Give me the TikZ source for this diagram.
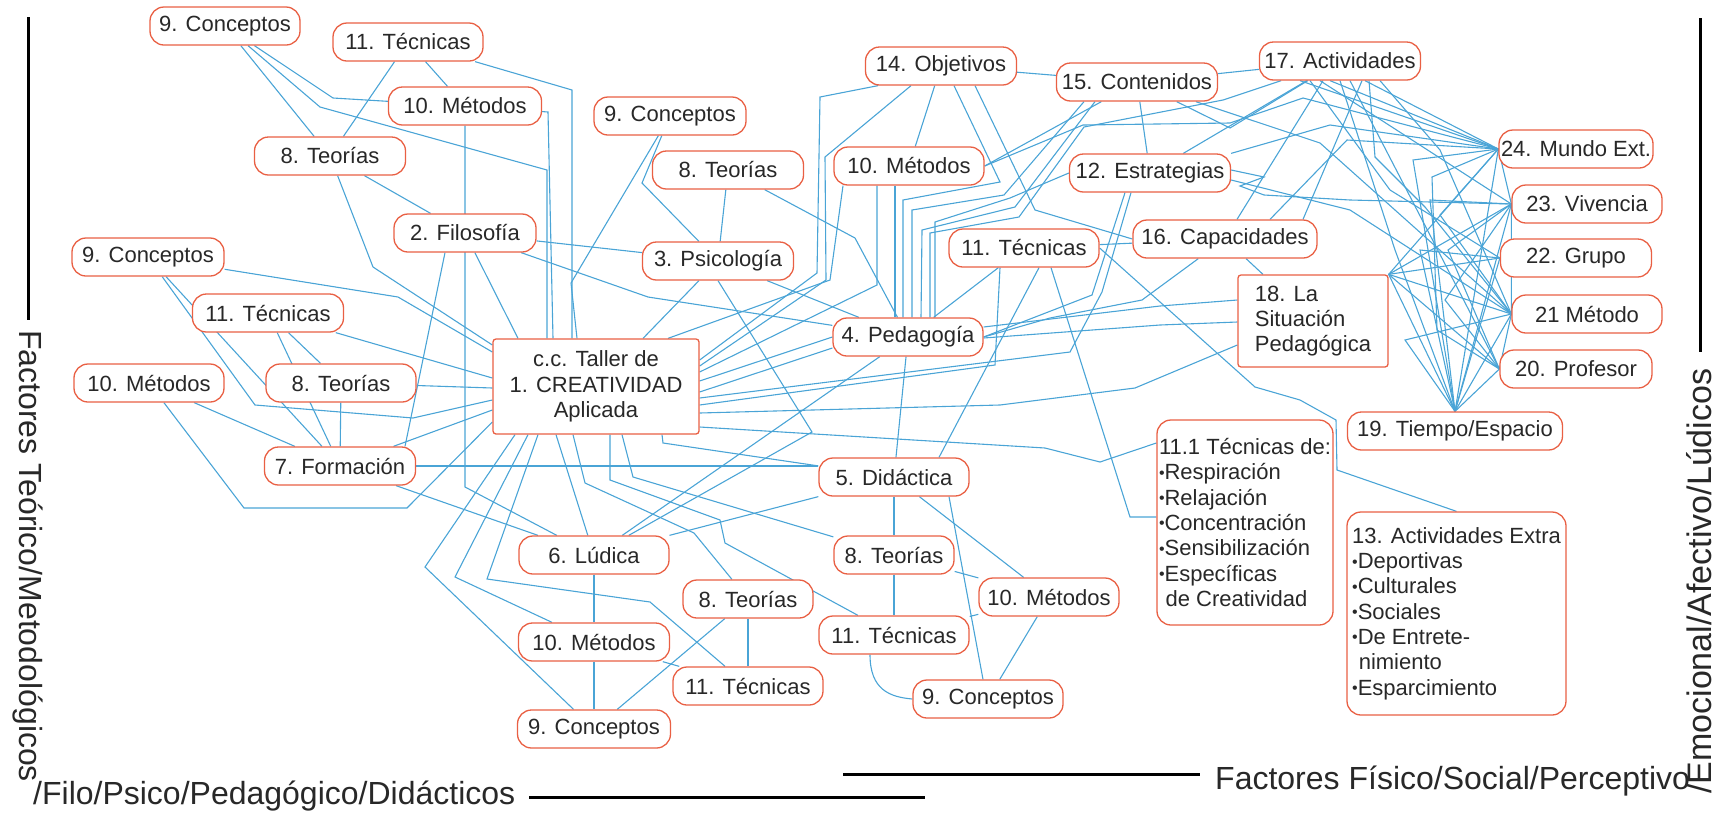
\documentclass[tikz,border=0pt]{standalone}
\usepackage{fontspec}
\setmainfont{Liberation Sans}
\usetikzlibrary{backgrounds}
\definecolor{linkc}{RGB}{74,164,214}
\definecolor{boxc}{RGB}{233,96,68}
\definecolor{txtc}{RGB}{40,40,40}
% small list bullet
\newcommand{\bul}{\raisebox{1.6pt}{\fontsize{16}{16}\selectfont •}}
\begin{document}
\begin{tikzpicture}[x=1pt,y=-1pt,
  pill/.style={draw=boxc, line width=1.3pt, fill=white, rounded corners=14pt,
    minimum height=38pt, inner sep=2pt, font=\fontsize{22}{25}\selectfont, text=txtc},
  panel/.style={draw=boxc, line width=1.3pt, fill=white, rounded corners=3pt,
    inner sep=2pt, font=\fontsize{22}{25.3}\selectfont, text=txtc},
  link/.style={draw=linkc, line width=1.1pt},
  rule/.style={draw=black, line width=3pt},
  factor/.style={font=\fontsize{32}{36}\selectfont, text=txtc, inner sep=0pt}]
\useasboundingbox (0,0) rectangle (1729,812);

% ---------- factor labels and rules ----------
\draw[rule] (28,17) -- (28,320);
\node[factor, rotate=-90, anchor=west] (ftl) at (28,330) {Factores Teórico/Metodológicos};
\node[factor, anchor=base west] (fbl) at (33,804) {/Filo/Psico/Pedagógico/Didácticos};
\draw[rule] (529,797) -- (925,797);
\draw[rule] (843,774) -- (1200,774);
\node[factor, anchor=base west] (fbr) at (1215,789) {Factores Físico/Social/Perceptivo};
\draw[rule] (1700,18) -- (1700,352);
\node[factor, font=\fontsize{34}{38}\selectfont, rotate=90, anchor=west] (fr) at (1699,794) {/Emocional/Afectivo/Lúdicos};

% ---------- central box ----------
\node[panel, minimum width=206pt, minimum height=95pt, align=center] (cc) at (596,386.5)
  {c.c. Taller de\\1. CREATIVIDAD\\Aplicada};

% ---------- philosophy branch ----------
\node[pill, minimum width=150pt] (n9a) at (225,26) {9. Conceptos};
\node[pill, minimum width=150pt] (n11a) at (408,42) {11. Técnicas};
\node[pill, minimum width=153pt] (n10a) at (465,106) {10. Métodos};
\node[pill, minimum width=151pt] (n8a) at (330,156) {8. Teorías};
\node[pill, minimum width=142pt] (n2) at (465,233) {2. Filosofía};

% ---------- formation branch ----------
\node[pill, minimum width=152pt] (n9b) at (148,257) {9. Conceptos};
\node[pill, minimum width=151pt] (n11b) at (268,313) {11. Técnicas};
\node[pill, minimum width=150pt] (n10b) at (149,383) {10. Métodos};
\node[pill, minimum width=150pt] (n8b) at (341,383) {8. Teorías};
\node[pill, minimum width=151pt] (n7) at (340,466) {7. Formación};

% ---------- psychology / pedagogy ----------
\node[pill, minimum width=152pt] (n9e) at (670,116) {9. Conceptos};
\node[pill, minimum width=151pt] (n8e) at (728,170) {8. Teorías};
\node[pill, minimum width=151pt] (n3) at (718,261) {3. Psicología};
\node[pill, minimum width=150pt] (n10e) at (909,166) {10. Métodos};
\node[pill, minimum width=151pt] (n14) at (941,66) {14. Objetivos};
\node[pill, minimum width=161pt] (n15) at (1137,82) {15. Contenidos};
\node[pill, minimum width=161pt] (n17) at (1340,61) {17. Actividades};
\node[pill, minimum width=161pt] (n12) at (1150,173) {12. Estrategias};
\node[pill, minimum width=150pt] (n11e) at (1024,248) {11. Técnicas};
\node[pill, minimum width=184pt] (n16) at (1225,239) {16. Capacidades};
\node[pill, minimum width=150pt] (n4) at (908,337) {4. Pedagogía};
\node[panel, minimum width=150pt, minimum height=92pt, align=left] (n18) at (1313,321)
  {18. La\\Situación\\Pedagógica};

% ---------- right column ----------
\node[pill, minimum width=151pt] (n24) at (1576,149) {24. Mundo Ext.};
\node[pill, minimum width=150pt] (n23) at (1587,204) {23. Vivencia};
\node[pill, minimum width=151pt] (n22) at (1576,258) {22. Grupo};
\node[pill, minimum width=150pt] (n21) at (1587,314) {21 Método};
\node[pill, minimum width=152pt] (n20) at (1576,369) {20. Profesor};
\node[pill, minimum width=215pt] (n19) at (1455,431) {19. Tiempo/Espacio};
\node[panel, rounded corners=14pt, minimum width=176pt, minimum height=205pt, align=left] (n111) at (1245,522.5)
  {11.1 Técnicas de:\\\bul Respiración\\\bul Relajación\\\bul Concentración\\\bul Sensibilización\\\bul Específicas\\\hspace{0.3em}de Creatividad};
\node[panel, rounded corners=14pt, minimum width=219pt, minimum height=203pt, align=left] (n13) at (1456.5,613.5)
  {13. Actividades Extra\\\bul Deportivas\\\bul Culturales\\\bul Sociales\\\bul De Entrete-\\\hspace{0.3em}nimiento\\\bul Esparcimiento};

% ---------- didactics / ludic branch ----------
\node[pill, minimum width=150pt] (n5) at (894,477) {5. Didáctica};
\node[pill, minimum width=150pt] (n6) at (594,555) {6. Lúdica};
\node[pill, minimum width=120pt] (n8c) at (894,555) {8. Teorías};
\node[pill, minimum width=130pt] (n8d) at (748,599) {8. Teorías};
\node[pill, minimum width=151pt] (n10c) at (594,642) {10. Métodos};
\node[pill, minimum width=150pt] (n11c) at (748,686) {11. Técnicas};
\node[pill, minimum width=153pt] (n9c) at (594,729) {9. Conceptos};
\node[pill, minimum width=140pt] (n10d) at (1049,597) {10. Métodos};
\node[pill, minimum width=150pt] (n11d) at (894,635) {11. Técnicas};
\node[pill, minimum width=150pt] (n9d) at (988,699) {9. Conceptos};

% ---------- connectors ----------
\begin{pgfonlayer}{background}
% philosophy branch
\draw[link] (n9a) -- (n8a);
\draw[link] (n9a) -- (333,98) -- (n10a);
\draw[link] (n9a) -- (320,107) -- (547,170) -- (547,0 |- cc.north);
\draw[link] (n11a) -- (n8a);
\draw[link] (n11a) -- (n10a);
\draw[link] (n11a) -- (572,90) -- (572,0 |- cc.north);
\draw[link] (n10a) -- (465,487) -- (n6);
\draw[link] (n10a) -- (548,112) -- (553,0 |- cc.north);
\draw[link] (n8a) -- (373,267) -- (cc.west |- 0,345);
\draw[link] (n8a) -- (n2);
\draw[link] ([xshift=-20pt]n2.south) -- ([xshift=65pt]n7.north);
\draw[link] (n2) -- ([xshift=-78pt]cc.north);
\draw[link] (n2) -- (n3);
\draw[link] (n2) -- (648,297) -- (n4);
% formation branch
\draw[link] (n9b) -- (398,297) -- (cc.west |- 0,352);
\draw[link] (n9b) -- (255,405) -- (413,418) -- (cc.west |- 0,400);
\draw[link] (n9b) -- (n7);
\draw[link] (n11b) -- (cc.west |- 0,378);
\draw[link] (n11b) -- (n8b);
\draw[link] (n11b) -- (n7);
\draw[link] (n10b) -- (244,508) -- (407,508) -- (cc.west |- 0,422);
\draw[link] (n10b) -- (n7);
\draw[link] (n8b) -- (n7);
\draw[link] (n8b) -- (cc.west |- 0,388);
\draw[link] (n7) -- (cc.west |- 0,410);
\draw[link] (n7.east) -- (n7.east -| n5.west);
\draw[link] (n7) -- (n6);
% central box, lower side
\draw[link] (cc.south -| 515,0) -- (425,567) -- (n9c);
\draw[link] (cc.south -| 528,0) -- (455,577) -- (n10c);
\draw[link] (cc.south -| 538,0) -- (487,579) -- (650,602) -- (n11c);
\draw[link] (cc.south -| 556,0) -- (n6);
\draw[link] (cc.south -| 573,0) -- (585,483) -- (694,533) -- (n8d);
\draw[link] (cc.south -| 610,0) -- (610,480) -- (720,520) -- (725,543) -- (n11d);
\draw[link] (cc.south -| 622,0) -- (633,477) -- (n8c);
\draw[link] (cc.south -| 662,0) -- (663,443) -- (n5);
% ludic / didactic cluster
\draw[link] (n6) -- (n10c);
\draw[link] (n6) -- (n5);
\draw[link] (n6) -- (n4);
\draw[link] (n3.south) -- (812,432) -- (n6);
\draw[link] (n4) -- (n5);
\draw[link] (n5) -- (n8c);
\draw[link] ([xshift=55pt]n5.south) -- ([xshift=-5pt]n9d.north);
\draw[link] (n5) -- (n10d);
\draw[link] (n8c) -- (n11d);
\draw[link] (n8c) -- (n10d);
\draw[link] (n11d) -- (n10d);
\draw[link] (n11d.south -| 870,0) .. controls (870,690) and (890,697) .. (n9d.west);
\draw[link] (n10d) -- (n9d);
\draw[link] (n8d) -- (n11c);
\draw[link] (n8d) -- (n9c);
\draw[link] (n10c) -- (n11c);
\draw[link] (n10c) -- (n9c);
% psychology
\draw[link] (n9e) -- (571,283) -- (cc.north -| 577,0);
\draw[link] (n9e) -- (642,183) -- (n3);
\draw[link] (n8e) -- (n3);
\draw[link] (n8e) -- (855,238) -- (n4);
\draw[link] (n3) -- (n4);
\draw[link] (cc.north -| 643,0) -- (n3);
\draw[link] (cc.north -| 668,0) -- (830,280) -- (n10e.south -| 843,0);
% central box, right side fan
\draw[link] (cc.east |- 0,360) -- (817,273) -- (820,97) -- (n14.south -| 878,0);
\draw[link] (cc.east |- 0,366) -- (826,280) -- (825,157) -- (n14.south -| 911,0);
\draw[link] (cc.east |- 0,372) -- (877,285) -- (n10e.south -| 877,0);
\draw[link] (cc.east |- 0,381) -- (n4.west);
\draw[link] (cc.east |- 0,392) -- (n4.west |- 0,348);
\draw[link] (cc.east |- 0,398) -- (1070,352) -- (1102,292) -- (n12.south -| 1131,0);
\draw[link] (cc.east |- 0,405) -- (995,365) -- (n11e.south -| 1000,0);
\draw[link] (cc.east |- 0,413) -- (1000,405) -- (1135,388) -- (n18.west |- 0,345);
\draw[link] (cc.east |- 0,427) -- (1045,448) -- (1100,462) -- (n111.west |- 0,443);
% pedagogy cluster
\draw[link] (n10e.south -| 895,0) -- (n4.north -| 895,0);
\draw[link] (n14) -- (n10e);
\draw[link] (n14) -- (n15);
\draw[link] (n14.south -| 954,0) -- (1000,182) -- (903,200) -- (n4.north -| 903,0);
\draw[link] (n14.south -| 975,0) -- (1035,210) -- (n16.west);
\draw[link] (n15) -- (n10e.east);
\draw[link] (n15.south -| 1084,0) -- (1004,195) -- (912,210) -- (n4.north -| 912,0);
\draw[link] (n15.south -| 1095,0) -- (1015,207) -- (922,230) -- (n4.north -| 921,0);
\draw[link] (n15) -- (n12);
\draw[link] (n15) -- (n17);
\draw[link] (n15) -- (1230,128) -- (n17);
\draw[link] (n15) -- (1320,143) -- (n21.west);
\draw[link] (n17) -- (1223,100) -- (1084,127) -- (1019,217) -- (930,233) -- (n4.north -| 930,0);
\draw[link] (n17) -- (n12);
\draw[link] (n16.north -| 1237,0) -- (n17.south -| 1323,0);
\draw[link] (n16.north -| 1303,0) -- (n17.south -| 1362,0);
\draw[link] (n16) -- (n11e);
\draw[link] (n16) -- (1142,300) -- (1050,318) -- (n4.east);
\draw[link] (n16) -- (n18);
\draw[link] (n12.west) -- (1010,198) -- (935,222) -- (n4.north -| 935,0);
\draw[link] (n11e) -- (n4);
\draw[link] ([xshift=15pt]n11e.south) -- ([xshift=45pt]n5.north);
\draw[link] ([xshift=27pt]n11e.south) -- (1130,517) -- (n111.west |- 0,517);
\draw[link] (n11e.east) -- (1255,387) -- (1300,400) -- (1336,420) -- (1337,470) -- (n13.north);
\draw[link] (n4.east |- 0,327) -- (1160,306) -- (n18.west |- 0,300);
\draw[link] (n4.east |- 0,338) -- (1160,325) -- (n18.west |- 0,322);
\draw[link] (n4.east) -- (1092,295) -- (n12.south -| 1125,0);
% towards the right column
\draw[link] (n10e.east) -- (1083,125) -- (1230,123) -- (1303,98) -- (n24.west);
\draw[link] (n12.north east) -- (1330,125) -- (n24.west);
\draw[link] (n16.north -| 1270,0) -- (1347,140) -- (n24.west);
\draw[link] (n17.south -| 1300,0) -- (n24.west);
\draw[link] (n17.south -| 1330,0) -- (n24.west);
\draw[link] (n17.south -| 1365,0) -- (n24.west);
\draw[link] (n17.south -| 1369,0) -- (1375,157) -- (1425,207) -- (n21.west);
\draw[link] (n17.south -| 1380,0) -- (1440,150) -- (n21.west);
\draw[link] (n17.south -| 1350,0) -- (n20.west);
\draw[link] (n17.south -| 1340,0) -- (1395,250) -- (n19.north);
\draw[link] (n17.south -| 1320,0) -- (n23.west);
\draw[link] (n17.south -| 1310,0) -- (1390,190) -- (n22.west);
\draw[link] (n12.east |- 0,170) -- (1264,177) -- (1240,186) -- (1264,195) -- (1350,200) -- (n23.west);
\draw[link] (n12.east |- 0,180) -- (1350,210) -- (n21.west);
% right column mesh
\foreach \t in {n24,n23,n22,n21,n20} {
  \draw[link] (n18.north east) -- (\t.west);
  \draw[link] (n19.north) -- (\t.west);
}
\draw[link] (n18.north east) -- (n19.north);
\draw[link] (n24.west) -- (1413,160) -- (n19.north);
\draw[link] (n24.west) -- (1432,177) -- (1437,330) -- (n20.west);
\draw[link] (n23.west) -- (1430,200) -- (n19.north);
\draw[link] (n23.west) -- (1448,250) -- (n20.west);
\draw[link] (n21.west) -- (1440,215) -- (n24.west);
\draw[link] (n22.west) -- (1420,250) -- (n19.north);
\draw[link] (n20.west) -- (1445,300) -- (n23.west);
\draw[link] (n21.west) -- (1405,340) -- (n19.north);
\draw[link] (n24.west) -- (n23.west) -- (n21.west) -- (n20.west);
\end{pgfonlayer}
\end{tikzpicture}
\end{document}
